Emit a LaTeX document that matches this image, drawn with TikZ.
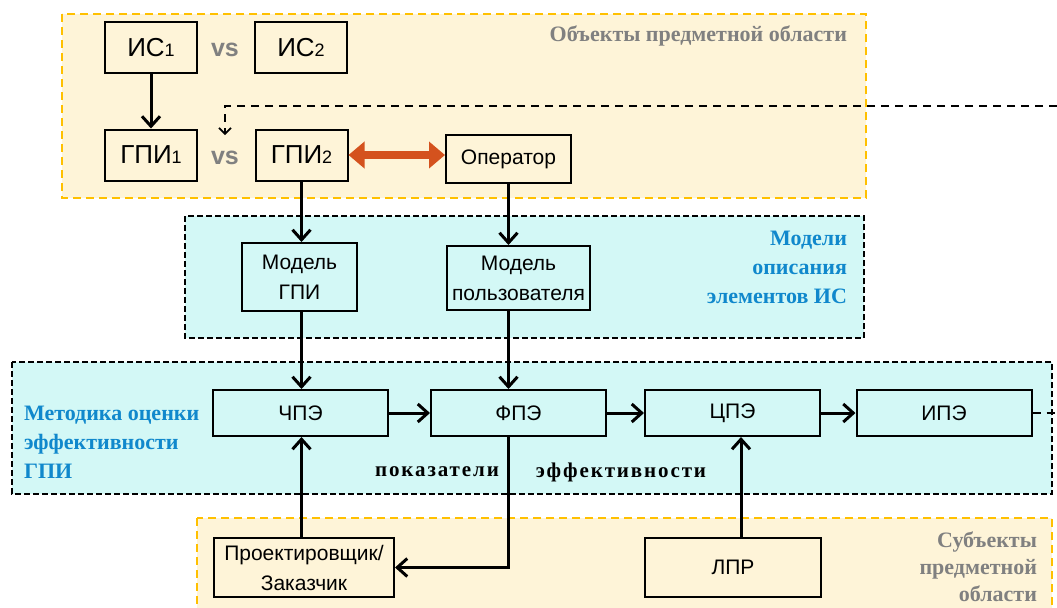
\documentclass[tikz,border=0pt]{standalone}
\usepackage{fontspec}
\setmainfont{Liberation Sans}
\newfontfamily\lblfont{Liberation Serif}
\newfontfamily\spacedfont{Liberation Serif}[LetterSpace=9]
\usepackage{xcolor}
\usetikzlibrary{arrows.meta}
\definecolor{areayellow}{HTML}{FEF4D8}
\definecolor{areaedge}{HTML}{FFC000}
\definecolor{areacyan}{HTML}{D3F8F6}
\definecolor{labelgray}{HTML}{808080}
\definecolor{labelblue}{HTML}{1088CC}
\definecolor{linkorange}{HTML}{D4521E}
\newcommand{\idx}[1]{{\fontsize{9}{9}\selectfont #1}}

\begin{document}
\begin{tikzpicture}[x=0.5pt, y=-0.5pt,
  objbox/.style={draw=black, line width=1pt, fill=areayellow, inner sep=0pt,
    minimum width=46pt, minimum height=25.5pt, font=\fontsize{13}{13}\selectfont},
  modbox/.style={draw=black, line width=1pt, fill=areacyan, inner sep=0pt,
    align=center, font=\fontsize{10.5}{15}\selectfont},
  pebox/.style={modbox, minimum width=87.5pt, minimum height=23pt},
  subbox/.style={draw=black, line width=1pt, fill=areayellow, inner sep=0pt,
    align=center, minimum height=29.5pt, font=\fontsize{10.5}{15}\selectfont},
  yarea/.style={draw=areaedge, fill=areayellow, line width=1.2pt, dash pattern=on 4pt off 2.5pt},
  carea/.style={draw=black, fill=areacyan, line width=0.6pt, dash pattern=on 3pt off 1.5pt},
  vslbl/.style={text=labelgray, font=\fontsize{12.5}{12.5}\selectfont\bfseries},
  graylbl/.style={text=labelgray, font=\lblfont\fontsize{11}{14.5}\selectfont\bfseries},
  bluelbl/.style={text=labelblue, font=\lblfont\fontsize{11}{14.5}\selectfont\bfseries},
  arr/.style={-{Straight Barb[length=5pt, width=9pt, line width=1.5pt]}, line width=1.5pt},
  darr/.style={-{Straight Barb[length=3pt, width=6pt]}, line width=0.8pt, dash pattern=on 4pt off 3pt}
]
  \useasboundingbox (0,0) rectangle (1057,607);

  % areas
  \draw[yarea] (62,14) rectangle (866,198);
  \draw[carea] (185,216) rectangle (864,338);
  \draw[carea] (12,362) rectangle (1052,494);
  \draw[yarea] (197,518) rectangle (1052,615);

  \node[graylbl, anchor=east] (objlbl) at (854,36) {Объекты предметной области};
  \node[bluelbl, anchor=east, align=right] (modlbl) at (854,267) {Модели\\описания\\элементов ИС};
  \node[bluelbl, anchor=west, align=left] (metlbl) at (17,442) {Методика оценки\\эффективности\\ГПИ};
  \node[graylbl, anchor=east, align=right, font=\lblfont\fontsize{11}{13.5}\selectfont\bfseries]
    (sublbl) at (1044,567) {Субъекты\\предметной\\области};

  % objects
  \node[objbox] (is1) at (151,47.5) {ИС\idx{1}};
  \node[objbox] (is2) at (301,47.5) {ИС\idx{2}};
  \node[objbox] (gpi1) at (151,155) {ГПИ\idx{1}};
  \node[objbox] (gpi2) at (301.5,155) {ГПИ\idx{2}};
  \node[vslbl] (vs1) at (225,50) {vs};
  \node[vslbl] (vs2) at (225,158) {vs};
  \node[objbox, minimum width=62.5pt, minimum height=24pt, font=\fontsize{10.5}{10.5}\selectfont]
    (oper) at (508.5,159) {Оператор};

  % models
  \node[modbox, minimum width=57.5pt, minimum height=34pt] (mgpi) at (299.5,277) {Модель\\ГПИ};
  \node[modbox, minimum width=71.5pt, minimum height=32pt] (muser) at (518.5,278) {Модель\\пользователя};

  % efficiency indicators
  \node[pebox] (chpe) at (300.5,413) {ЧПЭ};
  \node[pebox] (fpe) at (518.5,413) {ФПЭ};
  \node[pebox] (cpe) at (732.5,413) {ЦПЭ};
  \node[pebox] (ipe) at (944,413) {ИПЭ};
  \node[font=\spacedfont\fontsize{10.5}{10.5}\selectfont\bfseries] (pok) at (437,472) {показатели};
  \node[font=\spacedfont\fontsize{10.5}{10.5}\selectfont\bfseries] (eff) at (621,472) {эффективности};

  % subjects
  \node[subbox, minimum width=90pt] (proj) at (304,567.5) {Проектировщик/\\Заказчик};
  \node[subbox, minimum width=88pt] (lpr) at (733,567.5) {ЛПР};

  \coordinate (loopin) at (1057,106);
  \coordinate (loopout) at (1057,413);
  \coordinate (loopend) at (225,135);

  \draw[arr] (is1) -- (gpi1);
  \draw[darr] (loopin) -- (loopin -| loopend) -- (loopend);
  \draw[dash pattern=on 4pt off 3pt, line width=0.8pt] (ipe.east) -- (loopout);
  \draw[{Triangle[length=8pt, width=13pt]}-{Triangle[length=8pt, width=13pt]},
    line width=4pt, linkorange] (gpi2.east) -- (oper.west |- gpi2.east);

  \draw[arr] (gpi2.south) -- (gpi2.south |- mgpi.north);
  \draw[arr] (oper.south) -- (oper.south |- muser.north);
  \draw[arr] (mgpi.south -| gpi2.south) -- (gpi2.south |- chpe.north);
  \draw[arr] (muser.south -| oper.south) -- (oper.south |- fpe.north);

  \draw[arr] (chpe) -- (fpe);
  \draw[arr] (fpe) -- (cpe);
  \draw[arr] (cpe) -- (ipe);

  \draw[arr] (fpe.south -| oper.south) |- (proj.east);
  \draw[arr] (proj.north -| gpi2.south) -- (gpi2.south |- chpe.south);
  \draw[arr] (lpr.north -| 741,0) -- (chpe.south -| 741,0);
\end{tikzpicture}
\end{document}
